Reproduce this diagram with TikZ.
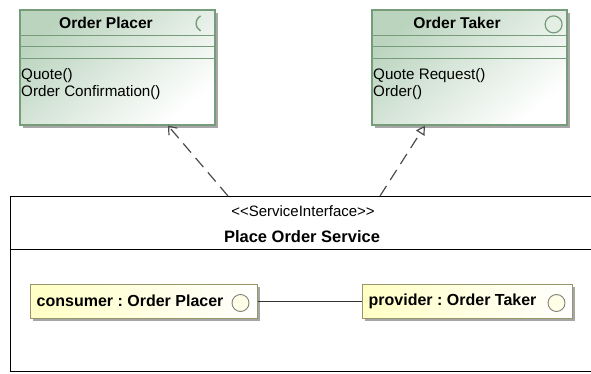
\documentclass[tikz,border=0pt]{standalone}
\usepackage{fontspec}
\setmainfont{Liberation Sans}
\usetikzlibrary{arrows.meta,shadows}
\definecolor{classgreen}{RGB}{186,212,190}
\definecolor{classline}{RGB}{118,156,122}
\definecolor{partyellow}{RGB}{255,255,196}
\definecolor{partline}{RGB}{152,150,108}
\definecolor{iconline}{RGB}{130,130,120}
\tikzstyle{umlclass}=[rectangle, draw=classline, line width=1.2pt, top color=classgreen, bottom color=white, shading angle=40, drop shadow={shadow xshift=3pt, shadow yshift=-3pt, fill=black!35, opacity=1}, minimum width=195pt, minimum height=115pt, inner sep=0pt]
\tikzstyle{part}=[rectangle, draw=partline, line width=1pt, left color=partyellow, right color=white, drop shadow={shadow xshift=3pt, shadow yshift=-3pt, fill=black!35, opacity=1}, minimum height=34pt, inner sep=0pt]
\tikzstyle{frame}=[rectangle, draw=black, line width=1pt, minimum width=600pt, minimum height=175pt, inner sep=0pt]
\tikzstyle{title}=[font=\fontsize{15.6}{17}\selectfont\bfseries, inner sep=0pt]
\tikzstyle{ops}=[font=\fontsize{15.2}{16.8}\selectfont, align=left, anchor=north west, inner sep=0pt]
\tikzstyle{parttext}=[font=\fontsize{16}{18}\selectfont\bfseries, anchor=west, inner sep=0pt]
\tikzstyle{icon}=[draw=iconline, fill=partyellow!40, line width=0.9pt]
\tikzstyle{dep}=[dash pattern=on 12pt off 7pt, draw=black!70, line width=1.2pt]
\frenchspacing

\begin{document}
\begin{tikzpicture}[x=1pt, y=-1pt]
                \clip (0,0) rectangle (591,374);
                \fill[white] (0,0) rectangle (591,374);
                % classes
                \node[umlclass] (placer) at (117.5, 67.5) {};
                \node[umlclass] (taker)  at (469.5, 67.5) {};
                \node[title] at (106, 23) {Order Placer};
                \node[title] at (457, 23) {Order Taker};
                \foreach \c in {placer, taker} {
                    \draw[classline, line width=1.2pt] ([yshift=-26pt]\c.north west) -- ([yshift=-26pt]\c.north east);
                    \draw[classline, line width=1.2pt] ([yshift=-37pt]\c.north west) -- ([yshift=-37pt]\c.north east);
                    \draw[classline, line width=1.2pt] ([yshift=-49pt]\c.north west) -- ([yshift=-49pt]\c.north east);
                }
                \draw[classline, line width=1.4pt] ([xshift=-11pt, yshift=-14pt]placer.north east) ++(118:8.5pt) arc (118:242:8.5pt);
                \draw[icon, draw=classline, line width=1.2pt, fill=white!60!classgreen] ([xshift=-14pt, yshift=-15pt]taker.north east) circle (8.5pt);
                \node[ops] at (21, 68) {Quote()\\Order Confirmation()};
                \node[ops] at (373, 68) {Quote Request()\\Order()};
                % service interface
                \node[frame] (service) at (310, 283.5) {};
                \draw[line width=1pt] ([yshift=-54pt]service.north west) -- ([yshift=-54pt]service.north east);
                \node[font=\fontsize{15}{16}\selectfont, inner sep=0pt] at (303, 211) {<{}<ServiceInterface>{}>};
                \node[title, font=\fontsize{16.5}{18}\selectfont\bfseries] at (302, 237) {Place Order Service};
                % parts
                \node[part, minimum width=227pt] (consumer) at (143.5, 301) {};
                \node[part, minimum width=210pt] (provider) at (467, 301) {};
                \node[parttext] at ([xshift=7pt]consumer.west) {consumer : Order Placer};
                \node[parttext] at ([xshift=7pt]provider.west) {provider : Order Taker};
                \draw[icon] ([xshift=-17pt, yshift=-2pt]consumer.east) circle (8.5pt);
                \draw[icon] ([xshift=-16pt, yshift=-2pt]provider.east) circle (8.5pt);
                \draw[line width=1pt, black!80] (consumer.east) -- (provider.west);
                % dependencies
                \coordinate (usetail)  at (228, 196);
                \coordinate (realtail) at (380, 196);
                \draw[dep, -{Straight Barb[length=7pt, width=11pt]}] (usetail) -- ([xshift=50.5pt]placer.south);
                \draw[dep, -{Triangle[open, length=9pt, width=10pt, fill=white]}] (realtail) -- ([xshift=-44.5pt]taker.south);
            \end{tikzpicture}
\end{document}
